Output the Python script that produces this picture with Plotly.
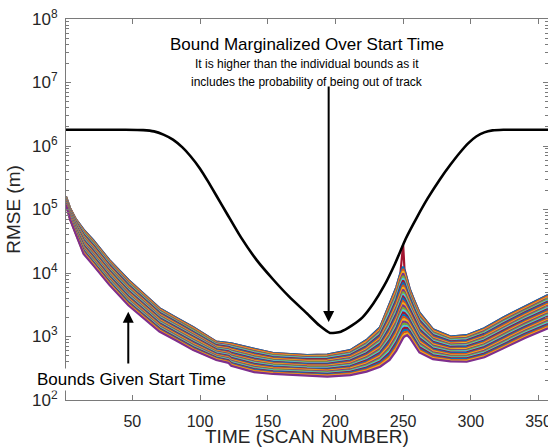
import numpy as np
import plotly.graph_objects as go

# ---------------- data ----------------
# time samples (scan number) for the family of "bounds given start time"
time_pts = [1, 4, 8, 14, 21, 33, 47, 60, 70, 82, 95, 112, 121, 123, 140, 154,
            179, 194, 211, 223, 233, 240, 245, 248, 250, 251, 253, 255, 258,
            262, 272, 285, 297, 310, 324, 340, 357]

# lowest curve of the family (purple, bottom edge of the band)
lowest_bound = [1.2e5, 7.0e4, 4.2e4, 2.0e4, 1.33e4, 6.5e3, 3.1e3, 1.8e3, 1.2e3,
                870, 610, 427, 385, 345, 275, 257, 240, 233, 247, 280, 335, 427,
                600, 800, 950, 1000, 1050, 950, 750, 560, 440, 405, 400, 470,
                650, 950, 1.35e3]

# highest "regular" curve of the family (top edge of the band)
upper_bound = [1.6e5, 1.05e5, 7.2e4, 4.8e4, 3.3e4, 1.6e4, 7.8e3, 4.4e3, 2.8e3,
               2.0e3, 1.4e3, 830, 790, 780, 640, 550, 510, 520, 610, 880, 1.4e3,
               3.2e3, 6.0e3, 1.0e4, 1.26e4, 1.1e4, 7.5e3, 5.5e3, 3.8e3, 2.4e3,
               1.3e3, 1.0e3, 1.05e3, 1.35e3, 2.0e3, 3.0e3, 4.5e3]

# topmost curve (dark red) with the spike at scan 250
top_bound = [1.6e5, 1.05e5, 7.2e4, 4.8e4, 3.3e4, 1.6e4, 7.8e3, 4.4e3, 2.8e3,
             2.0e3, 1.4e3, 830, 790, 780, 640, 550, 510, 520, 610, 880, 1.4e3,
             3.2e3, 6.0e3, 1.0e4, 2.8e4, 1.15e4, 7.5e3, 5.5e3, 3.8e3, 2.4e3,
             1.3e3, 1.0e3, 1.05e3, 1.35e3, 2.0e3, 3.0e3, 4.5e3]

# bound marginalized over start time (black)
marg_time = [1, 45, 58, 66, 73, 80, 87, 93, 100, 106, 112, 120, 130, 142, 154,
             166, 179, 188, 196, 204, 212, 220, 228, 236, 244, 252, 260, 268,
             277, 285, 292, 298, 304, 310, 316, 324, 357]
marg_bound = [1.8e6, 1.8e6, 1.78e6, 1.7e6, 1.51e6, 1.26e6, 9.5e5, 6.9e5, 4.4e5,
              2.75e5, 1.66e5, 8.5e4, 3.7e4, 1.58e4, 7.9e3, 4.2e3, 2.3e3, 1.5e3,
              1.14e3, 1.19e3, 1.48e3, 2.0e3, 3.3e3, 6.3e3, 1.4e4, 3.5e4, 7.4e4,
              1.48e5, 2.95e5, 5.1e5, 7.9e5, 1.1e6, 1.41e6, 1.64e6, 1.76e6, 1.8e6,
              1.8e6]

x_ticks = [50, 100, 150, 200, 250, 300, 350]
y_ticks = [1e2, 1e3, 1e4, 1e5, 1e6, 1e7, 1e8]
y_ticktext = ["10<sup>2</sup>", "10<sup>3</sup>", "10<sup>4</sup>", "10<sup>5</sup>",
              "10<sup>6</sup>", "10<sup>7</sup>", "10<sup>8</sup>"]

n_curves = 33  # number of start-time curves in the family
colors = ["#0072BD", "#D95319", "#EDB120", "#7E2F8E", "#77AC30", "#4DBEEE", "#A2142F"]

FONT = "Liberation Sans, Arial, Helvetica, sans-serif"

fig = go.Figure()

# family of curves: intermediate start-time curves lie between the lowest and
# highest read curves (estimated evenly spaced in log space)
ll = np.log10(np.array(lowest_bound))
lu = np.log10(np.array(upper_bound))
for d in range(n_curves):          # d = 0 is the top curve, drawn first
    j = n_curves - 1 - d           # j = 0 is the bottom curve
    if j == n_curves - 1:
        yv = top_bound
    else:
        f = j / (n_curves - 2)
        yv = list(10 ** (ll + f * (lu - ll)))
    fig.add_trace(go.Scatter(x=time_pts, y=yv, mode="lines",
                             line=dict(color=colors[(d + 6) % 7], width=2.2),
                             showlegend=False, hoverinfo="skip"))

fig.add_trace(go.Scatter(x=marg_time, y=marg_bound, mode="lines",
                         line=dict(color="black", width=2.6, shape="spline", smoothing=0.5),
                         showlegend=False, hoverinfo="skip"))

# empty trace to materialise the right-hand tick axis
fig.add_trace(go.Scatter(x=[None], y=[None], yaxis="y2", showlegend=False, hoverinfo="skip"))

minor_vals = [m * 10 ** e for e in range(2, 8) for m in range(2, 10)]
axis_col = "#7a7a7a"
tick_font = dict(family=FONT, size=16, color="#262626")

fig.update_layout(
    width=548, height=448,
    margin=dict(l=66, r=0, t=19, b=48, autoexpand=False),
    paper_bgcolor="white", plot_bgcolor="white",
    font=dict(family=FONT, color="#262626"),
    xaxis=dict(range=[1, 357], tickmode="array", tickvals=x_ticks,
               ticks="inside", ticklen=5, tickcolor=axis_col, tickwidth=1,
               showline=True, linecolor=axis_col, linewidth=1, mirror="ticks",
               showgrid=False, zeroline=False, tickfont=tick_font,
               ticklabelstandoff=7, ticklabeloverflow="allow",
               automargin=False),
    yaxis=dict(type="log", range=[2, 8], tickmode="array", tickvals=y_ticks,
               ticktext=y_ticktext, ticks="inside", ticklen=5, tickcolor=axis_col,
               showline=True, linecolor=axis_col, linewidth=1, mirror=False,
               showgrid=False, zeroline=False, tickfont=dict(family=FONT, size=17, color="#262626"),
               ticklabelstandoff=4,
               minor=dict(ticks="inside", ticklen=3, tickcolor=axis_col,
                          tickmode="array", tickvals=minor_vals, showgrid=False),
               title=dict(text="RMSE (m)", font=dict(family=FONT, size=19, color="#262626"),
                          standoff=6),
               automargin=False),
    yaxis2=dict(type="log", range=[2, 8], overlaying="y", side="right", anchor="x",
                tickmode="array", tickvals=y_ticks, ticks="inside", ticklen=5,
                tickcolor=axis_col, showticklabels=False, showline=False,
                showgrid=False, zeroline=False,
                minor=dict(ticks="inside", ticklen=3, tickcolor=axis_col,
                           tickmode="array", tickvals=minor_vals, showgrid=False)),
)

annotations = [
    dict(text="TIME (SCAN NUMBER)", xref="paper", yref="paper", x=0.5, y=-0.097,
         xanchor="center", yanchor="middle", showarrow=False,
         font=dict(family=FONT, size=19, color="#262626")),
    dict(text="Bound Marginalized Over Start Time", xref="paper", yref="paper",
         x=0.5, y=0.932, xanchor="center", yanchor="middle", showarrow=False,
         font=dict(family=FONT, size=17, color="black")),
    dict(text="It is higher than the individual bounds as it", xref="paper", yref="paper",
         x=0.5, y=0.882, xanchor="center", yanchor="middle", showarrow=False,
         font=dict(family=FONT, size=12, color="black")),
    dict(text="includes the probability of being out of track", xref="paper", yref="paper",
         x=0.5, y=0.835, xanchor="center", yanchor="middle", showarrow=False,
         font=dict(family=FONT, size=12, color="black")),
    # arrow to the marginalized bound (annotation coords on log axis are log10)
    dict(x=195, y=3.23, xref="x", yref="y", ax=195, ay=6.96, axref="x", ayref="y",
         showarrow=True, arrowhead=2, arrowsize=1.1, arrowwidth=2, arrowcolor="black",
         text="", standoff=0, startstandoff=0),
    # label + arrow to the family of bounds
    dict(text="Bounds Given Start Time", xref="paper", yref="paper", x=0.135, y=0.0525,
         xanchor="center", yanchor="middle", showarrow=False, bgcolor="white", borderpad=1,
         font=dict(family=FONT, size=17, color="black")),
    dict(x=47, y=3.39, xref="x", yref="y", ax=47, ay=2.55, axref="x", ayref="y",
         showarrow=True, arrowhead=2, arrowsize=1.1, arrowwidth=2, arrowcolor="black",
         text="", standoff=0, startstandoff=0),
]
fig.update_layout(annotations=annotations)

fig.write_html("out.html")
